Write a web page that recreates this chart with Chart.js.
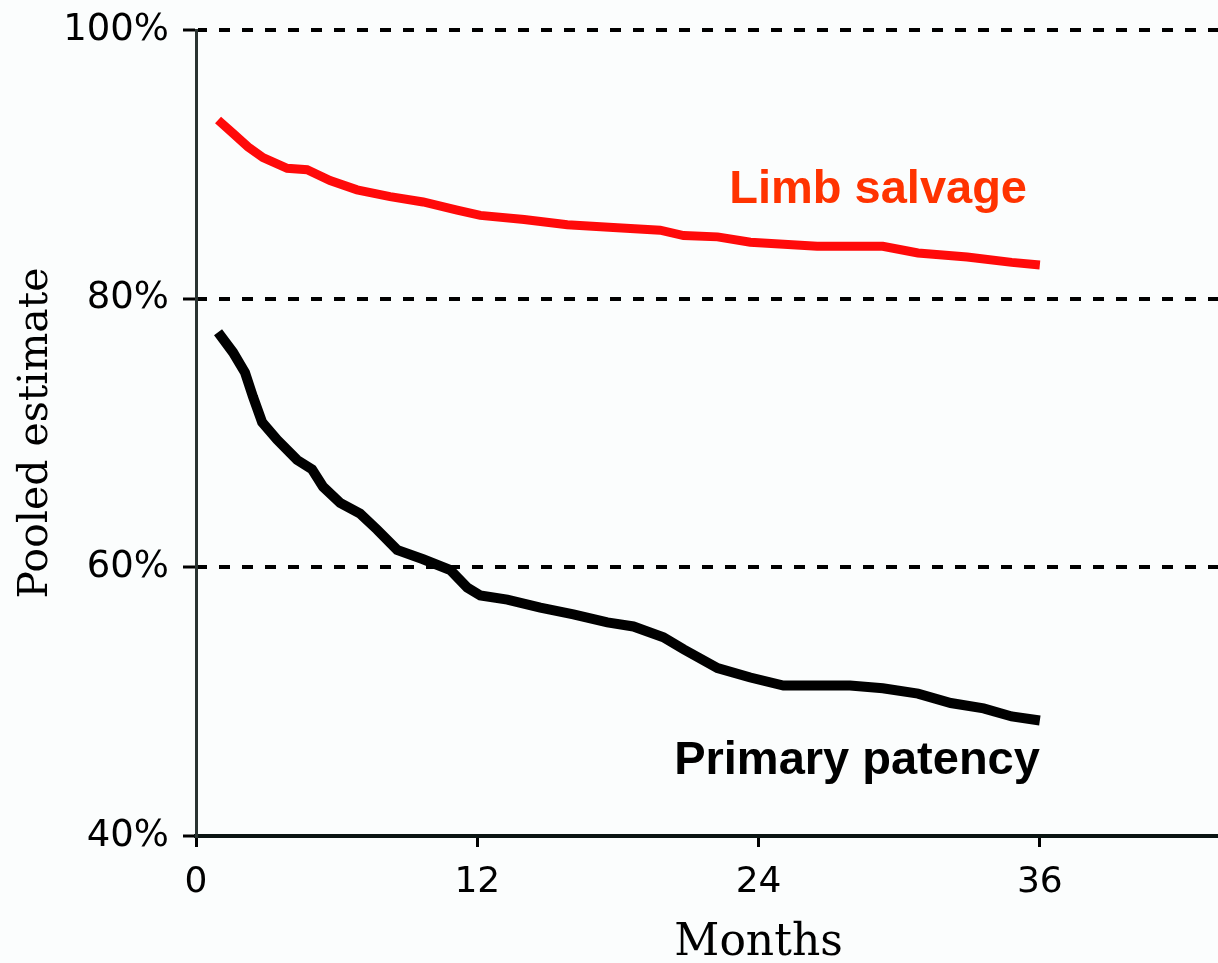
<!DOCTYPE html>
<html lang="en">
<head>
    <meta charset="UTF-8">
    <title>Limb salvage and primary patency</title>
    <script src="https://cdn.jsdelivr.net/npm/chart.js@4.4.1/dist/chart.umd.min.js"></script>
    <style>
      html, body { margin: 0; padding: 0; background: #fbfdfd; }
      canvas { display: block; }
    </style>
</head>
<body>
    <canvas id="chartKM" width="1218" height="963"></canvas>
    <script>
      // values (months, pooled estimate %)
      const limbMonths = [0.94, 1.58, 2.22, 2.86, 3.89, 4.74, 5.72, 6.87, 8.28, 9.69, 11.14, 12.13, 14.0, 15.84, 17.8, 19.8, 20.8, 22.25, 23.65, 26.5, 29.3, 30.8, 32.9, 34.8, 36.0];
      const limbSalvage = [93.3, 92.3, 91.3, 90.5, 89.7, 89.6, 88.8, 88.1, 87.6, 87.2, 86.6, 86.2, 85.9, 85.5, 85.3, 85.1, 84.7, 84.6, 84.2, 83.9, 83.9, 83.4, 83.1, 82.7, 82.5];
      const patencyMonths = [0.94, 1.58, 2.09, 2.43, 2.82, 3.46, 4.31, 4.95, 5.42, 6.15, 7.0, 7.73, 8.58, 9.69, 10.85, 11.57, 12.13, 13.28, 14.69, 16.1, 17.55, 18.66, 19.94, 20.8, 22.25, 23.65, 25.06, 27.9, 29.3, 30.8, 32.2, 33.6, 34.8, 36.0];
      const primaryPatency = [77.5, 76.0, 74.5, 72.7, 70.8, 69.5, 68.0, 67.3, 66.0, 64.8, 64.0, 62.8, 61.3, 60.6, 59.8, 58.5, 57.9, 57.6, 57.0, 56.5, 55.9, 55.6, 54.8, 53.9, 52.5, 51.8, 51.2, 51.2, 51.0, 50.6, 49.9, 49.5, 48.9, 48.6];
      const xTicks = [0, 12, 24, 36];
      const yTicks = [40, 60, 80, 100];

      function toPoints(xs, ys) {
        return xs.map((x, i) => ({ x: x, y: ys[i] }));
      }

      // text labels on the plot
      const labelsPlugin = {
        id: 'labelsPlugin',
        afterDraw(chart) {
          const ctx = chart.ctx;
          const x = chart.scales.x;
          const y = chart.scales.y;
          ctx.save();
          ctx.textAlign = 'center';
          ctx.textBaseline = 'alphabetic';
          ctx.font = 'bold 47px "Liberation Sans", Arial, sans-serif';
          ctx.fillStyle = '#ff3300';
          ctx.fillText('Limb salvage', x.getPixelForValue(29.1), y.getPixelForValue(87.1));
          ctx.fillStyle = '#000';
          ctx.fillText('Primary patency', x.getPixelForValue(28.2), y.getPixelForValue(44.6));
          ctx.font = '44px "DejaVu Serif", serif';
          ctx.fillText('Months', x.getPixelForValue(24), 955);
          ctx.restore();
        }
      };

      const ctx = document.getElementById('chartKM').getContext('2d');
      const chartKM = new Chart(ctx, {
        type: 'line',
        data: {
          datasets: [{
            label: 'Limb salvage',
            data: toPoints(limbMonths, limbSalvage),
            borderColor: '#ff0a0a',
            borderWidth: 9,
            pointRadius: 0,
            tension: 0
          }, {
            label: 'Primary patency',
            data: toPoints(patencyMonths, primaryPatency),
            borderColor: '#000',
            borderWidth: 10,
            pointRadius: 0,
            tension: 0
          }]
        },
        options: {
          responsive: false,
          animation: false,
          devicePixelRatio: 1,
          layout: { padding: { top: 30, right: 0, left: 0, bottom: 0 } },
          plugins: {
            legend: { display: false },
            tooltip: { enabled: false }
          },
          scales: {
            x: {
              type: 'linear',
              min: 0,
              max: 43.6,
              afterBuildTicks: function(scale) {
                scale.ticks = xTicks.map(v => ({ value: v }));
              },
              afterFit: function(scale) {
                scale.height = 127;
                scale.paddingLeft = 0;
                scale.paddingRight = 0;
              },
              grid: {
                drawOnChartArea: false,
                tickLength: 11,
                tickWidth: 3,
                tickColor: '#000'
              },
              border: { color: '#0a1412', width: 4 },
              ticks: {
                color: '#000',
                padding: 14,
                maxRotation: 0,
                font: { family: '"DejaVu Sans", sans-serif', size: 36 }
              }
            },
            y: {
              min: 40,
              max: 100,
              afterBuildTicks: function(scale) {
                scale.ticks = yTicks.map(v => ({ value: v }));
              },
              afterFit: function(scale) {
                scale.width = 196;
                scale.paddingTop = 0;
                scale.paddingBottom = 0;
              },
              grid: {
                color: '#000',
                lineWidth: 4,
                tickLength: 13,
                tickColor: '#000',
                tickWidth: 3,
                tickBorderDash: []
              },
              border: { color: '#2a3331', width: 3, dash: [11, 12], dashOffset: 2 },
              ticks: {
                color: '#000',
                padding: 14,
                font: { family: '"DejaVu Sans", sans-serif', size: 37 },
                callback: function(value) {
                  return value + '%';
                }
              },
              title: {
                display: true,
                text: 'Pooled estimate',
                color: '#000',
                padding: { top: 12, bottom: 0 },
                font: { family: '"DejaVu Serif", serif', size: 41 }
              }
            }
          }
        },
        plugins: [labelsPlugin]
      });
    </script>
</body>
</html>
